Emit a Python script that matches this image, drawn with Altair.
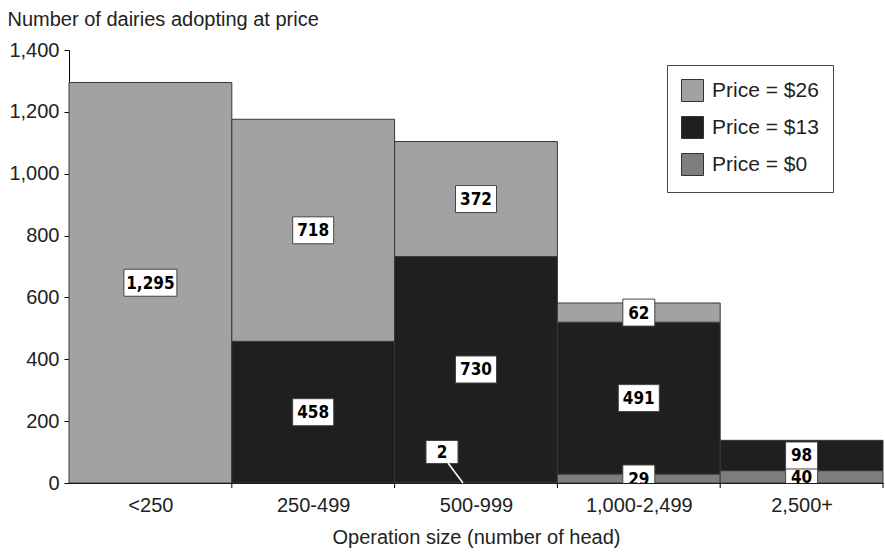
import json
import altair as alt
import pandas as pd

# ---- data ----
categories = ["<250", "250-499", "500-999", "1,000-2,499", "2,500+"]
price_0 = [0, 0, 2, 29, 40]
price_13 = [0, 458, 730, 491, 98]
price_26 = [1295, 718, 372, 62, 0]
series_names = ["Price = $0", "Price = $13", "Price = $26"]
legend_order = ["Price = $26", "Price = $13", "Price = $0"]
legend_colors = ["#a2a2a2", "#1f1f1f", "#7e7e7e"]
y_ticks = [0, 200, 400, 600, 800, 1000, 1200, 1400]

# ---- layout ----
W, H = 814, 433
Y_MAX = 1400
PX_X = W / len(categories)          # px per x unit (one band)
PX_Y = H / Y_MAX                    # px per value unit
FONT = "Liberation Sans"
LABEL_FONT = "DejaVu Sans Condensed"
BOX_H = 27
CALLOUT_DX = -34      # px offset of callout label from band centre
CALLOUT_RISE = 31     # px height of callout label centre above base

rows, labels, leaders = [], [], []
for i, cat in enumerate(categories):
    base = 0
    for name, vals in zip(series_names, [price_0, price_13, price_26]):
        v = vals[i]
        if v > 0:
            lo, hi = base, base + v
            rows.append(dict(cat=cat, x0=i, x1=i + 1, series=name, lo=lo, hi=hi))
            text = f"{v:,}"
            digits = sum(c.isdigit() for c in text)
            commas = text.count(",")
            bw = max(32, 14 + 9 * digits + 3 * commas)
            if v * PX_Y < 3:
                lx = i + 0.5 + CALLOUT_DX / PX_X
                ly = lo + CALLOUT_RISE / PX_Y
                leaders.append(dict(
                    a=lx + 6 / PX_X, b=ly - 11 / PX_Y,
                    c=i + 0.5 + (CALLOUT_DX + 21) / PX_X, d=lo))
                bh = 23
            else:
                lx = i + 0.5
                ly = (lo + hi) / 2
                bh = BOX_H
            labels.append(dict(
                text=text, lx=lx, ly=ly,
                bx0=lx - bw / 2 / PX_X, bx1=lx + bw / 2 / PX_X,
                by0=ly - bh / 2 / PX_Y, by1=ly + bh / 2 / PX_Y))
        base += vals[i]

bars_df = pd.DataFrame(rows)
labels_df = pd.DataFrame(labels)
leaders_df = pd.DataFrame(leaders)
bounds_df = pd.DataFrame({"b": list(range(1, len(categories) + 1))})

xscale = alt.Scale(domain=[0, len(categories)], nice=False, zero=False)
yscale = alt.Scale(domain=[0, Y_MAX], nice=False)

label_expr = json.dumps(categories) + "[floor(datum.value)]"

bars = alt.Chart(bars_df).mark_rect(stroke="#383838", strokeWidth=1).encode(
    x=alt.X("x0:Q", scale=xscale, axis=alt.Axis(
        values=[i + 0.5 for i in range(len(categories))],
        labelExpr=label_expr, ticks=False, grid=False,
        domainColor="#000000", labelFont=FONT, labelFontSize=20,
        labelColor="#222222", labelPadding=12,
        title="Operation size (number of head)", titleFont=FONT,
        titleFontSize=20, titleFontWeight="normal", titleColor="#222222",
        titlePadding=12)),
    x2="x1:Q",
    y=alt.Y("lo:Q", scale=yscale, axis=alt.Axis(
        values=y_ticks, format=",.0f", grid=False, domainColor="#000000",
        tickColor="#000000", tickSize=5, labelFont=FONT, labelFontSize=20,
        labelColor="#222222", labelPadding=5,
        title="Number of dairies adopting at price", titleFont=FONT,
        titleFontSize=20, titleFontWeight="normal", titleColor="#222222",
        titleAngle=0, titleAlign="left", titleBaseline="alphabetic",
        titleX=-62, titleY=-25)),
    y2="hi:Q",
    color=alt.Color("series:N", scale=alt.Scale(domain=legend_order, range=legend_colors),
                    legend=alt.Legend(
                        title=None, orient="none", legendX=598, legendY=15,
                        symbolType="square", symbolSize=484,
                        symbolStrokeColor="#333333", symbolStrokeWidth=1,
                        labelFont=FONT, labelFontSize=21, labelColor="#222222",
                        labelOffset=8, rowPadding=10, padding=14,
                        strokeColor="#444444", fillColor="#ffffff",
                        labelLimit=300)),
)

boxes = alt.Chart(labels_df).mark_rect(
    fill="#ffffff", stroke="#444444", strokeWidth=1, clip=True
).encode(
    x=alt.X("bx0:Q", scale=xscale), x2="bx1:Q",
    y=alt.Y("by0:Q", scale=yscale), y2="by1:Q",
)

leader = alt.Chart(leaders_df).mark_rule(color="#ffffff", strokeWidth=1.5).encode(
    x=alt.X("a:Q", scale=xscale), x2="c:Q",
    y=alt.Y("b:Q", scale=yscale), y2="d:Q",
)

texts = alt.Chart(labels_df).mark_text(
    font=LABEL_FONT, fontSize=17, fontWeight="bold", color="#000000",
    baseline="middle", align="center", clip=True, dy=1
).encode(
    x=alt.X("lx:Q", scale=xscale),
    y=alt.Y("ly:Q", scale=yscale),
    text="text:N",
)

ticks = alt.Chart(bounds_df).mark_rule(color="#000000", strokeWidth=1).encode(
    x=alt.X("b:Q", scale=xscale),
    y=alt.value(H), y2=alt.value(H + 5),
)

chart = alt.layer(bars, boxes, leader, texts, ticks).properties(
    width=W, height=H,
    autosize=alt.AutoSizeParams(type="none"),
    padding={"left": 69, "top": 50, "right": 2, "bottom": 70},
    background="#ffffff",
).configure_view(stroke=None)

chart.save("out.html", embed_options={"renderer": "svg", "actions": False})
